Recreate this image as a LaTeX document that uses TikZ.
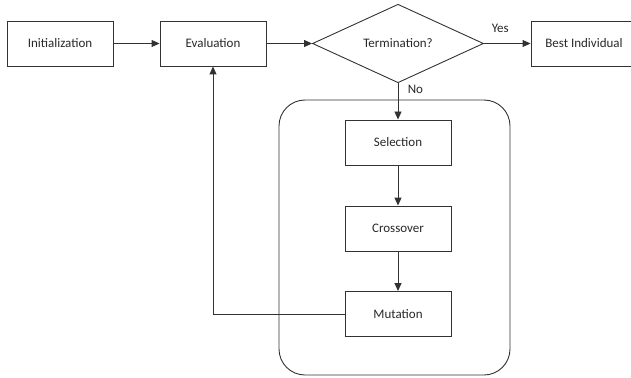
\documentclass[tikz,border=0pt]{standalone}
\usepackage{fontspec}
\setmainfont{Carlito}
\usetikzlibrary{arrows.meta,shapes.geometric}
\definecolor{linegray}{RGB}{50,50,50}
\definecolor{textgray}{RGB}{40,40,40}

\begin{document}
\begin{tikzpicture}[x=1pt,y=-1pt,
 stage/.style={draw=linegray,line width=.9pt,minimum width=106pt,minimum height=45pt,inner sep=0pt,font=\fontsize{13}{15}\selectfont,text=textgray},
 test/.style={diamond,draw=linegray,line width=.9pt,minimum width=171pt,minimum height=75pt,inner sep=0pt,font=\fontsize{13}{15}\selectfont,text=textgray},
 flow/.style={draw=linegray,line width=.9pt,-{Triangle[length=8pt,width=7pt]}},
 tag/.style={font=\fontsize{13}{15}\selectfont,text=textgray}]
\useasboundingbox (0,0) rectangle (631,377);
\draw[linegray,line width=.9pt,rounded corners=26pt] (279,100) rectangle (510,375);
\node[stage] (init) at (60,43.5) {Initialization};
\node[stage] (eval) at (213,43.5) {Evaluation};
\node[test] (term) at (398,43.5) {Termination?};
\node[stage] (best) at (584,43.5) {Best Individual};
\node[stage] (sel) at (398,142.5) {Selection};
\node[stage] (cross) at (398,228.5) {Crossover};
\node[stage] (mut) at (398,314) {Mutation};
\coordinate (back) at (eval.south |- mut.west);
\draw[flow] (init) -- (eval);
\draw[flow] (eval) -- (term);
\draw[flow] (term) -- node[tag,above,pos=.35,yshift=7pt]{Yes} (best);
\draw[flow] (term.south) -- node[tag,right,pos=.18,xshift=6pt]{No} (sel.north);
\draw[flow] (sel) -- (cross);
\draw[flow] (cross) -- (mut);
\draw[flow] (mut.west) -- (back) -- (eval.south);
\end{tikzpicture}
\end{document}
